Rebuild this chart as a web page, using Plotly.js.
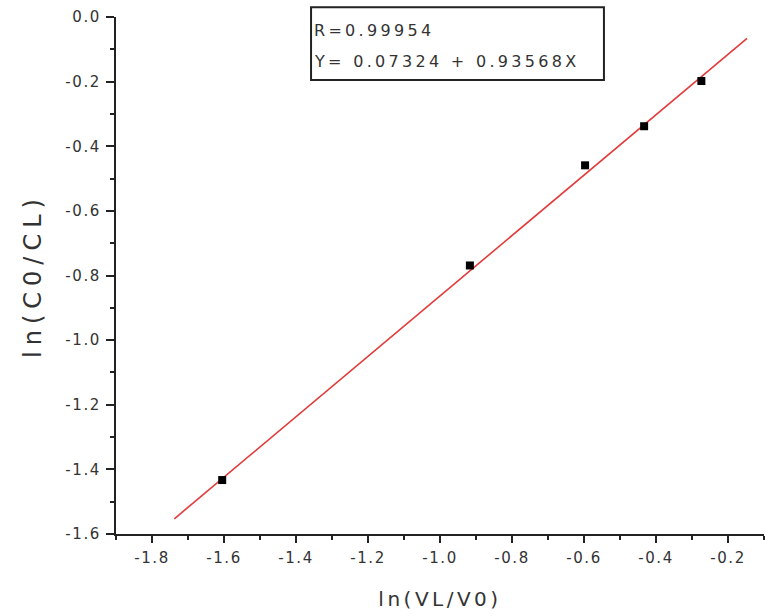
<!DOCTYPE html>
<html>
<head>
<meta charset="utf-8">
<script src="https://cdn.plot.ly/plotly-3.0.1.min.js"></script>
<style>
  html, body { margin: 0; padding: 0; background: #fff; }
  #chart { width: 769px; height: 616px; }
  .xtick text, .ytick text { letter-spacing: 1.6px; }
  text.xtitle { letter-spacing: 3.5px; }
  text.ytitle { letter-spacing: 6px; }
  text.annotation-text { letter-spacing: 3.3px; }
</style>
</head>
<body>
<div id="chart"></div>
<script>
// Measured points ln(VL/V0) vs ln(C0/CL)
const lnVL_V0 = [-1.605, -0.917, -0.597, -0.433, -0.274];
const lnC0_CL = [-1.433, -0.769, -0.459, -0.338, -0.198];

// Linear fit line end points
const fitX = [-1.738, -0.147];
const fitY = [-1.553, -0.066];

// Fit statistics text
const fitR = "R=0.99954";
const fitEq = "Y= 0.07324 + 0.93568X";

// Tick labels
const xTickVals = [-1.8, -1.6, -1.4, -1.2, -1.0, -0.8, -0.6, -0.4, -0.2];
const xTickText = ["-1.8", "-1.6", "-1.4", "-1.2", "-1.0", "-0.8", "-0.6", "-0.4", "-0.2"];
const yTickVals = [0, -0.2, -0.4, -0.6, -0.8, -1.0, -1.2, -1.4, -1.6];
const yTickText = ["0.0", "-0.2", "-0.4", "-0.6", "-0.8", "-1.0", "-1.2", "-1.4", "-1.6"];

const xTitle = "ln(VL/V0)";
const yTitle = "ln(C0/CL)";

const traces = [
  {
    x: fitX, y: fitY, type: "scatter", mode: "lines",
    line: { color: "#e23b3b", width: 1.6 },
    hoverinfo: "skip", showlegend: false
  },
  {
    x: lnVL_V0, y: lnC0_CL, type: "scatter", mode: "markers",
    marker: { symbol: "square", size: 8, color: "#000" },
    showlegend: false
  }
];

const axisCommon = {
  showline: true, linecolor: "#222", linewidth: 2,
  showgrid: false, zeroline: false, mirror: false,
  ticks: "outside", tickcolor: "#222", tickwidth: 2,
  tickmode: "array",
  tickfont: { family: "DejaVu Sans", size: 15, color: "#333" }
};

const layout = {
  width: 769, height: 616,
  paper_bgcolor: "#fff", plot_bgcolor: "#fff",
  margin: { l: 116, r: 5, t: 17, b: 82 },
  showlegend: false,
  xaxis: Object.assign({}, axisCommon, {
    range: [-1.9, -0.1],
    tickvals: xTickVals, ticktext: xTickText,
    ticklen: 7,
    minor: { tickmode: "linear", tick0: -1.9, dtick: 0.2, ticks: "outside", ticklen: 4, tickwidth: 2, tickcolor: "#222" },
    ticklabelstandoff: 2,
    title: { text: xTitle, font: { family: "DejaVu Sans", size: 20, color: "#333" }, standoff: 26 }
  }),
  yaxis: Object.assign({}, axisCommon, {
    range: [-1.6, 0],
    tickvals: yTickVals, ticktext: yTickText,
    ticklen: 8,
    minor: { tickmode: "linear", tick0: -0.1, dtick: 0.2, ticks: "outside", ticklen: 4, tickwidth: 2, tickcolor: "#222" },
    ticklabelstandoff: 2,
    title: { text: yTitle, font: { family: "DejaVu Sans", size: 24, color: "#333" }, standoff: 17 }
  }),
  shapes: [
    {
      type: "rect", xref: "paper", yref: "paper",
      x0: 0.301, x1: 0.753, y0: 0.878, y1: 1.019,
      line: { color: "#222", width: 2 }, fillcolor: "rgba(0,0,0,0)"
    }
  ],
  annotations: [
    {
      text: fitR, xref: "paper", yref: "paper", x: 0.3025, y: 0.973,
      xanchor: "left", yanchor: "middle", showarrow: false,
      font: { family: "DejaVu Sans", size: 16, color: "#333" }
    },
    {
      text: fitEq, xref: "paper", yref: "paper", x: 0.3025, y: 0.913,
      xanchor: "left", yanchor: "middle", showarrow: false,
      font: { family: "DejaVu Sans", size: 16, color: "#333" }
    }
  ]
};

Plotly.newPlot("chart", traces, layout, { displayModeBar: false, staticPlot: true });
</script>
</body>
</html>
